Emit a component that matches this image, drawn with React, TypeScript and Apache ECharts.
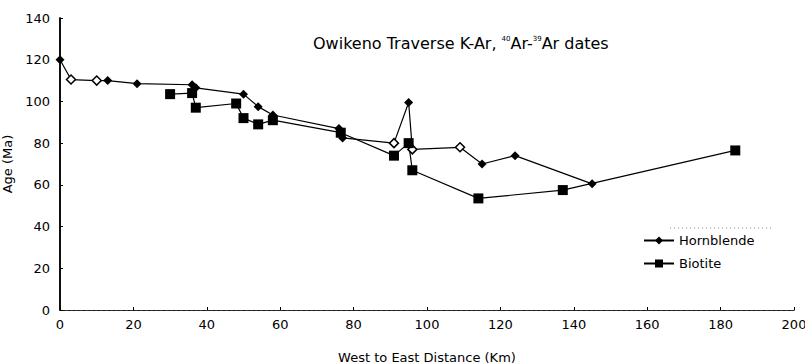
import React, { useEffect, useRef } from "react";
import * as echarts from "echarts";

const hornblendeX = [0, 3, 10, 13, 21, 36, 37, 50, 54, 58, 76, 77, 91, 95, 96, 109, 115, 124, 145];
const hornblendeY = [120, 110.5, 110, 110, 108.5, 108, 106.5, 103.5, 97.5, 93.5, 87, 82.5, 80, 99.5, 77, 78, 70, 74, 60.5];
const hornblendeHollow = [false, true, true, false, false, false, false, false, false, false, false, false, true, false, true, true, false, false, false];

const biotiteX = [30, 36, 37, 48, 50, 54, 58, 76.5, 91, 95, 96, 114, 137, 184];
const biotiteY = [103.5, 104, 97, 99, 92, 89, 91, 85, 74, 80, 67, 53.5, 57.5, 76.5];

const xTicks = [0, 20, 40, 60, 80, 100, 120, 140, 160, 180, 200];
const yTicks = [0, 20, 40, 60, 80, 100, 120, 140];

const FONT = "DejaVu Sans";

export default function App() {
  const ref = useRef<HTMLDivElement>(null);
  useEffect(() => {
    if (!ref.current) return;
    const chart = echarts.init(ref.current, undefined, { renderer: "svg" });
    const hbData = hornblendeX.map((x, i) => ({
      value: [x, hornblendeY[i]],
      itemStyle: hornblendeHollow[i]
        ? { color: "#fff", borderColor: "#000", borderWidth: 1.5 }
        : { color: "#000" },
    }));
    const btData = biotiteX.map((x, i) => [x, biotiteY[i]]);
    chart.setOption({
      animation: false,
      backgroundColor: "#fff",
      textStyle: { fontFamily: FONT, color: "#000" },
      title: {
        text: "Owikeno Traverse K-Ar, {sup|40}Ar-{sup|39}Ar dates",
        left: 308,
        top: 30,
        textStyle: {
          fontFamily: FONT,
          fontSize: 16,
          fontWeight: "normal",
          color: "#000",
          rich: {
            sup: { fontSize: 7, verticalAlign: "top", padding: [0, 0, 8, 0], fontFamily: FONT, color: "#000" },
          },
        },
      },
      legend: {
        orient: "vertical",
        left: 638,
        top: 229,
        itemWidth: 30,
        itemHeight: 10,
        itemGap: 10,
        textStyle: { fontFamily: FONT, fontSize: 13, color: "#000" },
        data: ["Hornblende", "Biotite"],
      },
      grid: { left: 60, right: 11, top: 18, bottom: 54, containLabel: false, outerBoundsMode: "none" },
      xAxis: [
        {
          type: "value",
          min: 0,
          max: 200,
          interval: 20,
          name: "West to East Distance (Km)",
          nameLocation: "middle",
          nameGap: 41,
          nameTextStyle: { fontFamily: FONT, fontSize: 13, color: "#000" },
          axisLine: { show: true, lineStyle: { color: "#000", width: 1.2 } },
          axisTick: { show: true, inside: true, length: 3, lineStyle: { color: "#000" } },
          axisLabel: { fontFamily: FONT, fontSize: 13, color: "#000", margin: 8 },
          splitLine: { show: false },
        },
        {
          type: "value",
          position: "top",
          min: 0,
          max: 200,
          axisLine: { show: true, lineStyle: { color: "#333", width: 1, type: [3, 2] } },
          axisTick: { show: false },
          axisLabel: { show: false },
          splitLine: { show: false },
        },
      ],
      yAxis: [
        {
          type: "value",
          min: 0,
          max: 140,
          interval: 20,
          name: "Age (Ma)",
          nameLocation: "middle",
          nameGap: 41,
          nameRotate: 90,
          nameTextStyle: { fontFamily: FONT, fontSize: 13, color: "#000" },
          axisLine: { show: true, lineStyle: { color: "#000", width: 1.5 } },
          axisTick: { show: true, inside: true, length: 3, lineStyle: { color: "#000" } },
          axisLabel: { fontFamily: FONT, fontSize: 13, color: "#000", margin: 10 },
          splitLine: { show: false },
        },
        {
          type: "value",
          position: "right",
          min: 0,
          max: 140,
          axisLine: { show: true, lineStyle: { color: "#000", width: 1.5 } },
          axisTick: { show: false },
          axisLabel: { show: false },
          splitLine: { show: false },
        },
      ],
      graphic: [
        {
          type: "line",
          shape: { x1: 670, y1: 228, x2: 772, y2: 228 },
          style: { stroke: "#888", lineWidth: 1, lineDash: [1, 3] },
        },
      ],
      series: [
        {
          name: "Hornblende",
          type: "line",
          data: hbData,
          symbol: "diamond",
          symbolSize: 9,
          lineStyle: { color: "#000", width: 1.2 },
          itemStyle: { color: "#000" },
        },
        {
          name: "Biotite",
          type: "line",
          data: btData,
          symbol: "rect",
          symbolSize: 10,
          lineStyle: { color: "#000", width: 1.2 },
          itemStyle: { color: "#000" },
        },
      ],
    });
    return () => chart.dispose();
  }, []);
  return <div ref={ref} style={{ width: 805, height: 364, position: "absolute", left: 0, top: 0 }} />;
}
